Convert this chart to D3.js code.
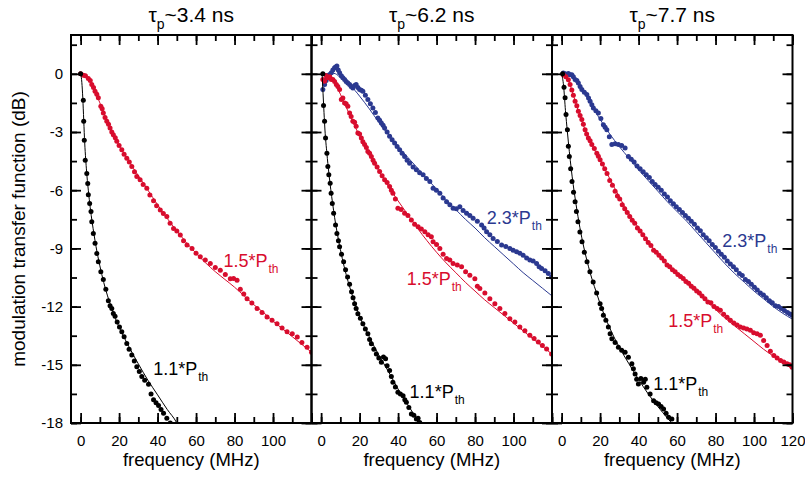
<!DOCTYPE html>
<html>
<head>
<meta charset="utf-8">
<script src="https://cdn.jsdelivr.net/npm/d3@7"></script>
<style>
  body { margin: 0; background: #fff; }
  svg text { font-family: "Liberation Sans", Arial, sans-serif; }
</style>
</head>
<body>
<svg id="svg_main" width="805" height="480"></svg>
<script>
// ---- data: [frequency MHz, dB] ----
const panelTitles = ['3.4', '6.2', '7.7'];
const freqTicksMajor = [0, 20, 40, 60, 80, 100, 120];
const dbTicksMajor = [-18, -15, -12, -9, -6, -3, 0];

// panel 1 (tau_p ~ 3.4 ns)
const p1Black = [[0,0],[1.4,-1.36],[1.6,-2.45],[1.9,-3.42],[2.4,-4.45],[3.2,-5.14],[3.7,-5.66],[4.0,-6.23],[4.7,-6.68],[5.4,-7.1],[5.8,-7.62],[6.6,-8.23],[7.5,-8.74],[8.4,-9.26],[9.2,-9.69],[10.5,-10.2],[11.8,-10.6],[13.1,-11.1],[14.4,-11.7],[15.3,-11.95],[16.2,-12.1],[17.0,-12.35],[17.9,-12.5],[19.0,-12.8],[20.2,-13.05],[21.4,-13.3],[22.6,-13.55],[24.0,-13.9],[25.2,-14.2],[26.6,-14.5],[27.9,-14.8],[29.2,-15.1],[30.5,-15.35],[31.8,-15.6],[33.3,-15.8],[35.3,-16.0],[36.6,-16.5],[37.9,-16.8],[39.2,-16.95],[40.5,-17.1],[41.8,-17.3],[43.1,-17.5],[44.8,-17.75],[46.6,-18.0]];
const p1BlackFit = [[0,0],[0.5,-0.3],[1,-1.0],[1.5,-2.1],[2,-3.3],[3,-4.9],[4,-6.0],[5,-6.9],[6,-7.65],[7,-8.3],[8,-8.9],[10,-9.9],[12,-10.75],[14,-11.45],[16,-12.05],[18,-12.6],[20,-13.05],[25,-14.05],[30,-14.95],[35,-15.8],[40,-16.55],[45,-17.3],[50,-18.0],[51,-18.2]];
const p1Red = [[0,0],[1.4,-0.07],[2.5,-0.1],[4,-0.24],[5,-0.35],[5.8,-0.55],[6.7,-0.7],[7.5,-0.9],[8.4,-1.05],[9.2,-1.24],[10.5,-1.67],[11.2,-1.8],[11.8,-2.02],[12.7,-2.25],[13.6,-2.45],[14.5,-2.6],[15.3,-2.8],[16.2,-3.0],[17,-3.14],[18,-3.3],[18.8,-3.48],[20,-3.7],[21.4,-3.91],[22.6,-4.15],[24,-4.35],[25.3,-4.55],[26.6,-4.78],[28,-5.05],[29.2,-5.29],[30.9,-5.46],[32.5,-5.7],[34.4,-5.9],[36,-6.25],[37.9,-6.55],[39.5,-6.8],[41.4,-7.02],[43,-7.2],[44.8,-7.36],[46.5,-7.7],[48.3,-7.97],[50,-8.1],[51.8,-8.31],[53.5,-8.6],[55.3,-8.83],[57.9,-9.0],[60,-9.25],[62.2,-9.43],[64.8,-9.6],[67.4,-9.78],[70,-9.98],[72.6,-10.12],[75.2,-10.35],[77.8,-10.56],[79.5,-10.55],[81.3,-10.64],[83,-11.1],[84.8,-11.35],[86.5,-11.6],[89,-11.82],[91.7,-12.1],[94.3,-12.3],[96.9,-12.54],[99.5,-12.7],[102.1,-12.88],[104.7,-13.1],[107.3,-13.3],[110,-13.4],[112.6,-13.57],[115,-13.85],[117.7,-14.09],[120,-14.35]];
const p1RedFit = [[0,0],[3,-0.1],[5,-0.4],[7.5,-0.9],[10,-1.5],[12.5,-2.15],[15,-2.75],[17.5,-3.25],[20,-3.7],[25,-4.5],[30,-5.25],[35,-6.0],[40,-6.75],[45,-7.45],[50,-8.1],[55,-8.7],[60,-9.25],[65,-9.75],[70,-10.2],[75,-10.6],[80,-11.0],[85,-11.45],[90,-11.9],[95,-12.3],[100,-12.75],[105,-13.15],[110,-13.55],[115,-13.95],[120,-14.35]];

// panel 2 (tau_p ~ 6.2 ns)
const p2Black = [[0.9,0],[1.25,-1.64],[1.8,-2.45],[2.3,-3.31],[3.0,-4.09],[3.5,-4.78],[4.0,-5.2],[4.7,-5.64],[5.2,-6.16],[5.8,-6.68],[6.5,-7.19],[7.5,-7.79],[8.2,-8.23],[9.0,-8.6],[9.6,-8.92],[10.6,-9.3],[11.7,-9.69],[12.7,-10.1],[13.75,-10.47],[14.8,-10.85],[15.8,-11.24],[16.6,-11.55],[17.4,-11.85],[18.2,-12.1],[19.1,-12.37],[20.4,-12.6],[21.7,-12.88],[23.0,-13.15],[24.3,-13.4],[25.2,-13.7],[26.1,-13.92],[27.4,-14.2],[28.7,-14.44],[30.0,-14.65],[31.3,-14.87],[32.4,-14.6],[33.5,-14.69],[34.3,-15.05],[35.6,-15.29],[36.5,-15.6],[37.3,-15.9],[38.6,-16.15],[39.9,-16.42],[41.2,-16.5],[42.6,-16.59],[43.5,-16.8],[44.3,-16.93],[45.6,-17.2],[46.9,-17.54],[48.2,-17.6],[49.5,-17.8],[50.4,-17.75],[51.25,-17.97]];
const p2BlackFit = [[0.5,0],[1,-1.0],[1.5,-2.0],[2,-2.9],[3,-4.1],[4,-5.1],[5,-5.95],[6,-6.7],[7,-7.4],[8,-8.0],[10,-9.05],[12,-9.95],[14,-10.7],[16,-11.35],[18,-11.95],[20,-12.5],[25,-13.55],[30,-14.5],[35,-15.35],[40,-16.25],[45,-17.05],[50,-17.85],[52,-18.2]];
const p2Red = [[0.9,-0.29],[1.8,-0.38],[2.6,-0.1],[3.5,-0.21],[4.5,-0.15],[5.3,-0.3],[6.1,-0.29],[7.0,-0.4],[7.9,-0.55],[8.7,-0.65],[9.6,-0.81],[10.5,-1.33],[11.3,-1.25],[12.2,-1.5],[13.0,-1.55],[13.9,-1.67],[14.8,-2.02],[15.6,-2.2],[16.5,-2.45],[17.4,-2.5],[18.2,-2.71],[19.1,-3.05],[20.0,-3.1],[20.9,-3.31],[21.7,-3.5],[22.6,-3.65],[23.5,-3.8],[24.3,-4.0],[25.2,-4.1],[26.1,-4.26],[27.0,-4.45],[27.8,-4.61],[29.1,-4.8],[30.4,-5.04],[31.7,-5.25],[33.0,-5.46],[34.3,-5.6],[35.6,-5.81],[36.5,-6.0],[37.3,-6.16],[38.6,-6.45],[39.9,-6.93],[41.6,-7.0],[43.4,-7.19],[45.1,-7.3],[46.9,-7.53],[48.6,-7.75],[50.4,-7.88],[52.1,-8.0],[53.9,-8.14],[55.6,-8.3],[57.3,-8.4],[58.2,-8.66],[60,-8.8],[61.7,-9.0],[63.4,-9.3],[65.2,-9.52],[66.9,-9.6],[68.6,-9.78],[70.8,-9.85],[73.0,-9.95],[75.1,-10.2],[77.3,-10.38],[79.9,-10.56],[81.2,-10.95],[82.5,-11.07],[85.1,-11.3],[87.7,-11.59],[90.3,-11.85],[92.9,-12.1],[95.5,-12.35],[98.1,-12.62],[100.7,-12.8],[103.3,-13.05],[105.9,-13.25],[108.5,-13.48],[110.7,-13.65],[112.9,-13.83],[115,-14.0],[117.2,-14.18],[119.8,-14.44]];
const p2RedFit = [[0,0],[2.5,0.0],[5,-0.2],[7.5,-0.55],[10,-1.05],[12.5,-1.6],[15,-2.15],[17.5,-2.7],[20,-3.2],[25,-4.15],[30,-5.0],[35,-5.8],[40,-6.55],[45,-7.25],[50,-7.95],[55,-8.6],[60,-9.2],[65,-9.75],[70,-10.25],[75,-10.75],[80,-11.2],[85,-11.65],[90,-12.05],[95,-12.45],[100,-12.85],[105,-13.25],[110,-13.65],[115,-14.05],[120,-14.45]];
const p2Blue = [[0.9,-0.81],[1.8,-0.55],[2.6,-0.35],[3.5,-0.21],[4.4,-0.05],[5.3,0.05],[6.1,0.2],[7.0,0.31],[7.6,0.35],[8.2,0.4],[8.9,0.2],[9.6,0.05],[10.5,-0.1],[11.3,-0.21],[12.2,-0.3],[13.0,-0.4],[13.9,-0.47],[14.8,-0.55],[15.6,-0.65],[16.5,-0.73],[17.4,-0.6],[18.2,-0.55],[19.1,-0.7],[20.0,-0.81],[20.9,-0.85],[21.7,-0.9],[23.0,-1.1],[24.3,-1.33],[25.6,-1.55],[26.9,-1.76],[28.2,-2.0],[29.5,-2.28],[30.4,-2.4],[31.3,-2.54],[32.2,-2.65],[33.0,-2.8],[34.3,-3.0],[35.6,-3.22],[36.9,-3.4],[38.2,-3.57],[39.5,-3.75],[40.8,-3.91],[42.1,-4.1],[43.4,-4.26],[44.7,-4.45],[46.0,-4.61],[47.8,-4.8],[49.5,-4.95],[51.2,-5.1],[53.0,-5.21],[54.7,-5.4],[56.5,-5.55],[58.2,-5.9],[59.9,-6.0],[61.7,-6.16],[63.4,-6.4],[65.2,-6.59],[66.9,-6.75],[68.6,-6.93],[70.3,-6.95],[72.1,-6.85],[73.8,-7.05],[75.6,-7.19],[77.3,-7.3],[79.0,-7.45],[81.2,-7.6],[83.4,-7.79],[84.7,-7.95],[86.0,-8.14],[87.7,-8.3],[89.4,-8.49],[91.6,-8.65],[93.8,-8.83],[96,-8.9],[98.1,-9.0],[99.8,-9.1],[101.6,-9.17],[103.3,-9.25],[105.0,-9.35],[106.8,-9.5],[108.5,-9.6],[110.2,-9.65],[112.0,-9.78],[113.3,-9.95],[114.6,-10.04],[116.4,-10.15],[118.1,-10.3],[119.8,-10.47]];
const p2BlueFit = [[0,-0.05],[2.5,0.0],[5,0.05],[7.5,0.0],[10,-0.2],[12.5,-0.4],[15,-0.6],[17.5,-0.85],[20,-1.15],[25,-1.8],[30,-2.5],[35,-3.15],[40,-3.75],[45,-4.3],[50,-4.85],[55,-5.4],[60,-5.95],[65,-6.5],[70,-7.0],[75,-7.5],[80,-7.95],[85,-8.45],[90,-8.9],[95,-9.35],[100,-9.8],[105,-10.25],[110,-10.65],[115,-11.05],[120,-11.45]];

// panel 3 (tau_p ~ 7.7 ns)
const p3Black = [[0.5,0],[1.25,-0.69],[1.8,-1.24],[2.3,-2.1],[3.0,-2.88],[3.5,-3.74],[4.0,-4.26],[4.7,-4.9],[5.4,-5.55],[6.2,-6.1],[7.0,-6.59],[7.7,-7.1],[8.5,-7.62],[9.5,-8.15],[10.6,-8.66],[11.8,-9.2],[13.2,-9.69],[14.7,-10.2],[16.4,-10.73],[18.2,-11.3],[20.0,-11.85],[20.8,-12.1],[21.7,-12.45],[23.0,-12.7],[24.3,-13.05],[25.2,-13.4],[26.1,-13.66],[27.8,-13.85],[29.5,-14.09],[31.2,-14.25],[33.0,-14.35],[34.7,-14.61],[36.5,-14.95],[37.3,-15.2],[38.2,-15.47],[39.0,-15.75],[39.9,-15.99],[41.2,-15.7],[42.6,-15.9],[43.5,-15.75],[44.3,-16.16],[46.0,-16.5],[47.8,-16.85],[49.1,-16.95],[50.4,-17.02],[51.7,-17.15],[53.0,-17.28],[54.3,-17.5],[55.6,-17.71],[57.3,-17.8]];
const p3BlackFit = [[0,0],[1,-0.6],[2,-1.9],[3,-3.0],[4,-4.0],[5,-4.9],[6,-5.7],[7,-6.4],[8,-7.05],[10,-8.2],[12,-9.15],[14,-9.95],[16,-10.65],[18,-11.25],[20,-11.85],[25,-13.1],[30,-14.1],[35,-14.95],[40,-15.75],[45,-16.5],[50,-17.15],[55,-17.75],[59,-18.2]];
const p3Red = [[0.9,-0.05],[2.2,-0.15],[3.5,-0.31],[4.4,-0.55],[5.3,-0.83],[6.1,-1.1],[7.0,-1.41],[7.9,-1.65],[8.7,-1.93],[9.6,-2.15],[10.5,-2.36],[11.3,-2.6],[12.2,-2.88],[13.0,-3.1],[13.9,-3.31],[14.8,-3.45],[15.7,-3.65],[17.0,-3.85],[18.3,-4.09],[19.1,-4.25],[20.0,-4.43],[21.2,-4.65],[22.4,-4.9],[23.6,-5.14],[25.0,-5.5],[26.4,-5.75],[27.8,-6.05],[29,-6.3],[30.2,-6.45],[31.5,-6.75],[32.8,-6.95],[34.1,-7.15],[35.4,-7.35],[36.7,-7.55],[38.0,-7.7],[39.4,-7.95],[40.8,-8.1],[42.2,-8.3],[43.6,-8.5],[45.0,-8.7],[46.4,-8.85],[47.8,-9.1],[49.2,-9.2],[50.6,-9.35],[52,-9.5],[53.4,-9.65],[54.8,-9.85],[56.2,-9.95],[57.6,-10.1],[59.0,-10.2],[60.4,-10.35],[61.8,-10.45],[63.2,-10.55],[64.6,-10.7],[66,-10.8],[67.4,-10.95],[68.8,-11.05],[70.2,-11.2],[71.6,-11.3],[73,-11.45],[74.5,-11.6],[76.0,-11.76],[77.6,-11.8],[79.2,-12.0],[80.8,-12.1],[82.5,-12.19],[84.2,-12.4],[86.0,-12.55],[87.7,-12.71],[89.5,-12.85],[91.2,-12.95],[92.9,-13.05],[94.6,-13.1],[96.3,-13.15],[98.1,-13.22],[99.8,-13.35],[101.6,-13.4],[103.3,-13.48],[105,-13.75],[106.8,-14.0],[108.5,-14.3],[110.3,-14.52],[112,-14.65],[113.8,-14.78],[115.5,-14.85],[117.2,-14.95],[118.5,-15.0],[119.8,-15.12]];
const p3RedFit = [[0,0],[2.5,-0.15],[5,-0.75],[7.5,-1.55],[10,-2.3],[12.5,-2.95],[15,-3.5],[17.5,-4.0],[20,-4.45],[25,-5.4],[30,-6.35],[35,-7.2],[40,-7.95],[45,-8.65],[50,-9.3],[55,-9.85],[60,-10.35],[65,-10.8],[70,-11.25],[75,-11.7],[80,-12.15],[85,-12.6],[90,-13.0],[95,-13.4],[100,-13.8],[105,-14.2],[110,-14.55],[115,-14.9],[120,-15.2]];
const p3Blue = [[0.9,0.04],[1.8,0.0],[2.7,-0.05],[3.5,0.02],[4.4,-0.05],[5.3,-0.05],[6.1,-0.15],[7.0,-0.29],[7.9,-0.35],[8.7,-0.47],[9.6,-0.65],[10.5,-0.81],[11.8,-0.95],[13.1,-1.07],[14.0,-1.25],[14.8,-1.41],[15.7,-1.6],[16.5,-1.76],[17.8,-1.9],[19.1,-2.02],[20.4,-2.3],[21.7,-2.62],[22.6,-2.75],[23.5,-2.88],[24.8,-3.25],[26.1,-3.65],[27.8,-3.6],[29.5,-3.65],[31.2,-3.7],[33.0,-3.83],[34.7,-4.26],[36.2,-4.4],[37.7,-4.55],[39.2,-4.75],[40.8,-4.9],[42.4,-5.05],[44.0,-5.2],[45.6,-5.35],[47.1,-5.55],[48.6,-5.71],[50.2,-5.85],[51.8,-6.0],[53.4,-6.2],[55,-6.35],[56.5,-6.54],[58.1,-6.7],[59.6,-6.85],[61.2,-7.0],[62.8,-7.15],[64.3,-7.31],[65.9,-7.45],[67.4,-7.6],[69,-7.75],[70.6,-7.95],[72.1,-8.09],[73.6,-8.3],[75.2,-8.45],[76.7,-8.6],[78.3,-8.8],[79.9,-8.95],[81.5,-9.15],[83,-9.3],[84.6,-9.45],[86.1,-9.65],[87.7,-9.8],[89.3,-9.95],[90.8,-10.1],[92.4,-10.3],[93.9,-10.4],[95.5,-10.6],[97.1,-10.7],[98.6,-10.85],[100.2,-11.0],[101.7,-11.15],[103.3,-11.3],[104.9,-11.4],[106.4,-11.55],[108,-11.7],[109.5,-11.8],[111.1,-11.95],[112.7,-12.0],[114.2,-12.1],[115.8,-12.2],[117.4,-12.3],[118.7,-12.38],[119.8,-12.45]];
const p3BlueFit = [[0,0],[2.5,0.0],[5,-0.1],[7.5,-0.35],[10,-0.7],[12.5,-1.1],[15,-1.5],[17.5,-1.95],[20,-2.35],[25,-3.1],[30,-3.75],[35,-4.35],[40,-4.95],[45,-5.5],[50,-6.05],[55,-6.6],[60,-7.1],[65,-7.6],[70,-8.15],[75,-8.7],[80,-9.25],[85,-9.8],[90,-10.3],[95,-10.75],[100,-11.2],[105,-11.6],[110,-12.0],[115,-12.35],[120,-12.65]];

const RED = '#d80d2e', BLUE = '#2b3990', BLACK = '#000';

const panels = [
    {title: panelTitles[0], xlabels: [0, 20, 40, 60, 80, 100],
     series: [{dots: p1Red, fit: p1RedFit, color: RED}, {dots: p1Black, fit: p1BlackFit, color: BLACK}],
     notes: [{t: '1.5*P', f: 74.2, db: -9.95, color: RED}, {t: '1.1*P', f: 37.7, db: -15.5, color: BLACK}]},
    {title: panelTitles[1], xlabels: [0, 20, 40, 60, 80, 100],
     series: [{dots: p2Blue, fit: p2BlueFit, color: BLUE}, {dots: p2Red, fit: p2RedFit, color: RED}, {dots: p2Black, fit: p2BlackFit, color: BLACK}],
     notes: [{t: '2.3*P', f: 86.1, db: -7.73, color: BLUE}, {t: '1.5*P', f: 44.5, db: -10.88, color: RED}, {t: '1.1*P', f: 46.0, db: -16.73, color: BLACK}]},
    {title: panelTitles[2], xlabels: [0, 20, 40, 60, 80, 100, 120],
     series: [{dots: p3Blue, fit: p3BlueFit, color: BLUE}, {dots: p3Red, fit: p3RedFit, color: RED}, {dots: p3Black, fit: p3BlackFit, color: BLACK}],
     notes: [{t: '2.3*P', f: 83.5, db: -8.95, color: BLUE}, {t: '1.5*P', f: 55.4, db: -13.05, color: RED}, {t: '1.1*P', f: 47.6, db: -16.3, color: BLACK}]}
];

const left0 = 71, pw = 240.5, plotTop = 35, plotBottom = 423;
const svg = d3.select('#svg_main');
const y = d3.scaleLinear().domain([-18, 2]).range([plotBottom, plotTop]);
const minorF = d3.range(0, 121, 10);
const minorDb = d3.range(-18, 2, 1.5);

panels.forEach((p, i) => {
    const x0 = left0 + i * pw;
    const x = d3.scaleLinear().domain([-5, 120]).range([x0, x0 + pw]);
    const g = svg.append('g');

    g.append('clipPath').attr('id', 'clip' + i)
        .append('rect').attr('x', x0).attr('y', plotTop).attr('width', pw).attr('height', plotBottom - plotTop);
    const plot = g.append('g').attr('clip-path', `url(#clip${i})`);

    const line = d3.line().x(d => x(d[0])).y(d => y(d[1])).curve(d3.curveMonotoneX);
    p.series.forEach(s => {
        plot.append('g').selectAll('circle')
            .data(s.dots)
            .join('circle')
            .attr('cx', d => x(d[0]))
            .attr('cy', d => y(d[1]))
            .attr('r', 2.5)
            .attr('fill', s.color);
        plot.append('path')
            .datum(s.fit)
            .attr('d', line)
            .attr('fill', 'none')
            .attr('stroke', s.color)
            .attr('stroke-width', 1);
    });

    // axes, all ticks pointing inward
    const styleAxis = sel => {
        sel.select('.domain').remove();
        sel.selectAll('line').attr('stroke', '#000').attr('stroke-width', 1.8);
        sel.selectAll('text').attr('font-size', 15).attr('fill', '#000');
    };
    g.append('g').attr('transform', `translate(0,${plotBottom})`)
        .call(d3.axisBottom(x).tickValues(minorF).tickSize(-6).tickFormat('')).call(styleAxis);
    g.append('g').attr('transform', `translate(0,${plotBottom})`)
        .call(d3.axisBottom(x).tickValues(freqTicksMajor).tickSize(-10).tickPadding(12)
            .tickFormat(d => p.xlabels.includes(d) ? d : '')).call(styleAxis);
    g.append('g').attr('transform', `translate(0,${plotTop})`)
        .call(d3.axisTop(x).tickValues(minorF).tickSize(-6).tickFormat('')).call(styleAxis);
    g.append('g').attr('transform', `translate(0,${plotTop})`)
        .call(d3.axisTop(x).tickValues(freqTicksMajor).tickSize(-10).tickFormat('')).call(styleAxis);
    g.append('g').attr('transform', `translate(${x0},0)`)
        .call(d3.axisLeft(y).tickValues(minorDb).tickSize(-6).tickFormat('')).call(styleAxis);
    g.append('g').attr('transform', `translate(${x0},0)`)
        .call(d3.axisLeft(y).tickValues(dbTicksMajor).tickSize(-10).tickPadding(8)
            .tickFormat(d => i === 0 ? d : '')).call(styleAxis);
    g.append('g').attr('transform', `translate(${x0 + pw},0)`)
        .call(d3.axisRight(y).tickValues(minorDb).tickSize(-6).tickFormat('')).call(styleAxis);
    g.append('g').attr('transform', `translate(${x0 + pw},0)`)
        .call(d3.axisRight(y).tickValues(dbTicksMajor).tickSize(-10).tickFormat('')).call(styleAxis);

    g.append('rect')
        .attr('x', x0).attr('y', plotTop).attr('width', pw).attr('height', plotBottom - plotTop)
        .attr('fill', 'none').attr('stroke', '#000').attr('stroke-width', 2);

    // title
    const t = g.append('text')
        .attr('x', x0 + pw / 2).attr('y', 22)
        .attr('text-anchor', 'middle').attr('font-size', 21);
    t.append('tspan').text('τ');
    t.append('tspan').attr('font-size', 14).attr('dy', 7).text('p');
    t.append('tspan').attr('dy', -7).text('~' + p.title + ' ns');

    g.append('text')
        .attr('x', x0 + pw / 2).attr('y', 466)
        .attr('text-anchor', 'middle').attr('font-size', 18.5)
        .text('frequency (MHz)');

    p.notes.forEach(n => {
        const tx = g.append('text')
            .attr('x', x(n.f)).attr('y', y(n.db))
            .attr('font-size', 18).attr('fill', n.color);
        tx.append('tspan').text(n.t);
        tx.append('tspan').attr('font-size', 12).attr('dy', 6).attr('dx', 1).text('th');
    });
});

svg.append('text')
    .attr('transform', `translate(25,${(plotTop + plotBottom) / 2}) rotate(-90)`)
    .attr('text-anchor', 'middle').attr('font-size', 19)
    .text('modulation transfer function (dB)');
</script>
</body>
</html>
